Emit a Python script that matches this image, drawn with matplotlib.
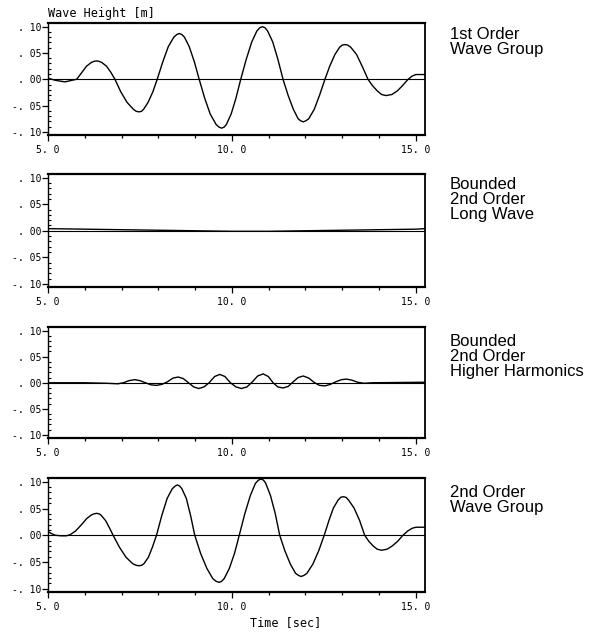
import matplotlib
matplotlib.use("Agg")
import matplotlib.pyplot as plt
from matplotlib.ticker import FixedLocator, MultipleLocator

# ---------------- data ----------------
t1 = [5.0, 5.2, 5.46, 5.65, 5.78, 5.92, 6.05, 6.18, 6.25, 6.32, 6.39, 6.46, 6.59, 6.71, 6.82,
      6.98, 7.15, 7.32, 7.40, 7.48, 7.54, 7.60, 7.72, 7.85, 7.97,
      8.12, 8.27, 8.42, 8.50, 8.57, 8.64, 8.71, 8.84, 8.98, 9.11,
      9.26, 9.41, 9.57, 9.65, 9.72, 9.79, 9.85, 9.98, 10.11, 10.24,
      10.39, 10.54, 10.68, 10.76, 10.83, 10.90, 10.97, 11.11, 11.25, 11.39,
      11.53, 11.67, 11.80, 11.87, 11.94, 12.01, 12.09, 12.24, 12.38, 12.53,
      12.66, 12.80, 12.93, 13.00, 13.07, 13.15, 13.23, 13.39, 13.54, 13.70,
      13.82, 13.95, 14.07, 14.13, 14.20, 14.27, 14.35, 14.50, 14.64, 14.79,
      14.90, 15.0, 15.1, 15.24]
y1 = [0.002, -0.002, -0.005, -0.002, 0.0, 0.013, 0.025, 0.032, 0.034, 0.035, 0.034, 0.032, 0.025, 0.013, 0.0,
      -0.024, -0.044, -0.057, -0.061, -0.062, -0.061, -0.057, -0.044, -0.024, 0.0,
      0.033, 0.062, 0.080, 0.085, 0.087, 0.085, 0.080, 0.062, 0.033, 0.0,
      -0.036, -0.066, -0.086, -0.091, -0.093, -0.091, -0.086, -0.066, -0.036, 0.0,
      0.038, 0.071, 0.092, 0.098, 0.100, 0.098, 0.092, 0.071, 0.038, 0.0,
      -0.031, -0.057, -0.075, -0.079, -0.081, -0.079, -0.075, -0.057, -0.031, 0.0,
      0.025, 0.047, 0.061, 0.065, 0.066, 0.065, 0.061, 0.047, 0.025, 0.0,
      -0.012, -0.022, -0.029, -0.030, -0.031, -0.030, -0.029, -0.022, -0.012, 0.0,
      0.006, 0.009, 0.009, 0.009]

t2 = [5.0, 6.0, 7.0, 8.0, 9.0, 10.0, 11.0, 12.0, 13.0, 14.0, 15.0, 15.24]
y2 = [0.004, 0.003, 0.002, 0.001, 0.0, -0.001, -0.001, 0.0, 0.001, 0.002, 0.003, 0.004]

t3 = [5.0, 6.0, 6.6, 6.9, 7.05, 7.2, 7.36, 7.5, 7.65, 7.8, 7.95, 8.1, 8.25, 8.4, 8.54, 8.68,
      8.82, 8.96, 9.10, 9.24, 9.38, 9.53, 9.67, 9.81, 9.96, 10.11, 10.26, 10.41, 10.56,
      10.70, 10.85, 10.99, 11.12, 11.25, 11.39, 11.53, 11.67, 11.80, 11.94, 12.09, 12.23,
      12.38, 12.53, 12.68, 12.83, 12.98, 13.12, 13.26, 13.42, 13.6, 13.8, 15.24]
y3 = [0.0, 0.0, -0.001, -0.002, 0.0, 0.004, 0.006, 0.004, 0.0, -0.004, -0.005, -0.003, 0.002,
      0.009, 0.011, 0.008, 0.0, -0.008, -0.011, -0.008, 0.0, 0.012, 0.016, 0.012, 0.0,
      -0.008, -0.011, -0.008, 0.002, 0.013, 0.017, 0.012, 0.0, -0.008, -0.010, -0.007,
      0.002, 0.010, 0.013, 0.009, 0.001, -0.005, -0.006, -0.003, 0.002, 0.006, 0.007,
      0.005, 0.001, -0.001, 0.0, 0.001]

t4 = [5.0, 5.1, 5.2, 5.35, 5.5, 5.6, 5.75, 5.9, 6.05, 6.18, 6.25, 6.32, 6.39, 6.45, 6.57, 6.67, 6.77,
      6.94, 7.12, 7.30, 7.39, 7.48, 7.55, 7.61, 7.73, 7.84, 7.95,
      8.09, 8.24, 8.38, 8.46, 8.52, 8.58, 8.64, 8.76, 8.88, 8.99,
      9.15, 9.32, 9.48, 9.57, 9.65, 9.72, 9.79, 9.93, 10.07, 10.20,
      10.35, 10.50, 10.64, 10.72, 10.79, 10.86, 10.92, 11.05, 11.18, 11.30,
      11.44, 11.59, 11.73, 11.81, 11.88, 11.96, 12.04, 12.20, 12.36, 12.51,
      12.64, 12.76, 12.89, 12.96, 13.02, 13.10, 13.17, 13.32, 13.47, 13.61,
      13.72, 13.84, 13.95, 14.01, 14.07, 14.15, 14.22, 14.36, 14.51, 14.65,
      14.78, 14.9, 15.0, 15.24]
y4 = [0.007, 0.003, 0.0, -0.001, -0.001, 0.001, 0.008, 0.019, 0.031, 0.038, 0.040, 0.041, 0.040, 0.037, 0.027, 0.014, 0.0,
      -0.022, -0.041, -0.053, -0.056, -0.057, -0.056, -0.053, -0.041, -0.022, 0.0,
      0.036, 0.069, 0.087, 0.092, 0.094, 0.092, 0.087, 0.069, 0.036, 0.0,
      -0.034, -0.062, -0.081, -0.086, -0.088, -0.086, -0.081, -0.062, -0.034, 0.0,
      0.040, 0.074, 0.097, 0.103, 0.105, 0.103, 0.097, 0.074, 0.040, 0.0,
      -0.029, -0.054, -0.071, -0.075, -0.077, -0.075, -0.071, -0.054, -0.029, 0.0,
      0.028, 0.051, 0.066, 0.071, 0.072, 0.071, 0.066, 0.051, 0.028, 0.0,
      -0.011, -0.020, -0.026, -0.027, -0.028, -0.027, -0.026, -0.020, -0.011, 0.0,
      0.008, 0.013, 0.015, 0.015]

series_t = [t1, t2, t3, t4]
series_y = [y1, y2, y3, y4]
panel_labels = ["1st Order\nWave Group",
                "Bounded\n2nd Order\nLong Wave",
                "Bounded\n2nd Order\nHigher Harmonics",
                "2nd Order\nWave Group"]
xticks = [5.0, 10.0, 15.0]
xtick_labels = ["5. 0", "10. 0", "15. 0"]
yticks = [0.10, 0.05, 0.0, -0.05, -0.10]
ytick_labels = [". 10", ". 05", ". 00", "-. 05", "-. 10"]

# ---------------- layout ----------------
W, H = 595, 633
fig = plt.figure(figsize=(W / 100, H / 100), dpi=100)
mono = "DejaVu Sans Mono"
sans = "Liberation Sans"

left_px, right_px = 48, 425
panels_px = [(23, 135), (174, 287), (327, 438), (478, 592)]
label_top_px = [27, 177, 334, 485]

for i, (top, bot) in enumerate(panels_px):
    ax = fig.add_axes([left_px / W, 1 - bot / H, (right_px - left_px) / W, (bot - top) / H])
    ax.plot(series_t[i], series_y[i], color="black", lw=1.0)
    ax.axhline(0, color="black", lw=0.8)
    ax.set_xlim(5.0, 15.25)
    ax.set_ylim(-0.106, 0.107)
    ax.xaxis.set_major_locator(FixedLocator(xticks))
    ax.set_xticklabels(xtick_labels, family=mono, fontsize=7)
    ax.xaxis.set_minor_locator(MultipleLocator(1.0))
    ax.yaxis.set_major_locator(FixedLocator(yticks))
    ax.set_yticklabels(ytick_labels, family=mono, fontsize=7)
    ax.yaxis.set_minor_locator(MultipleLocator(0.01))
    ax.tick_params(axis="x", which="major", direction="out", length=4, width=0.9, pad=3)
    ax.tick_params(axis="x", which="minor", direction="out", length=2.5, width=0.9)
    ax.tick_params(axis="y", which="major", direction="out", length=4, width=0.9, pad=1)
    ax.tick_params(axis="y", which="minor", direction="in", length=2.5, width=0.8)
    for side in ["top", "bottom"]:
        ax.spines[side].set_linewidth(1.6)
    ax.spines["left"].set_linewidth(1.0)
    ax.spines["right"].set_linewidth(1.3)
    fig.text(450 / W, 1 - label_top_px[i] / H, panel_labels[i], family=sans,
             fontsize=12, va="top", ha="left", linespacing=1.0)

fig.text(48 / W, 1 - 13 / H, "Wave Height [m]", family=mono, fontsize=8.5,
         va="center", ha="left")
fig.text(286 / W, 1 - 623 / H, "Time [sec]", family=mono, fontsize=8.5,
         va="center", ha="center")

fig.savefig("out.png", dpi=100)
